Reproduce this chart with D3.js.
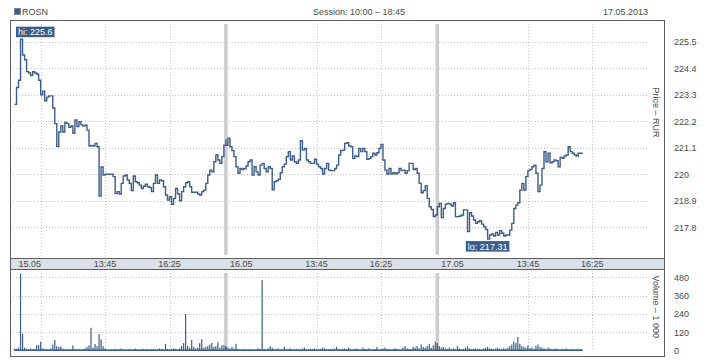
<!DOCTYPE html>
<html>
<head>
<meta charset="utf-8">
<script src="https://cdn.jsdelivr.net/npm/d3@7"></script>
<style>
  body { margin: 0; background: #fff; }
  svg { display: block; }
  text { font-family: "Liberation Sans", Arial, sans-serif; font-size: 9px; fill: #4a4a4a; }
</style>
</head>
<body>
<svg id="chart" width="718" height="360"></svg>
<script>
// trading days and session
const days = ["15.05", "16.05", "17.05"]
const sessionStart = "10:00"
const sessionEnd = "18:45"
const stepMinutes = 5
const gridTimes = [["11:05", "13:45", "16:25"], ["13:45", "16:25"], ["13:45", "16:25"]]
const labelTimes = ["13:45", "16:25"]
const priceTicks = [217.8, 218.9, 220, 221.1, 222.2, 223.3, 224.4, 225.5]
const volumeTicks = [0, 120, 240, 360, 480]

// ROSN price, 5-minute steps from 10:00
const prices15 = [222.9, 223.6, 223.9, 225.6, 224.95, 224.75, 224.26, 224.2, 224.1, 224.25,
  224.2, 224.15, 223.9, 223.3, 223.45, 223.05, 223.2, 223.25, 223.25, 222.75,
  222.1, 221.15, 221.75, 222.0, 221.75, 222.15, 222.1, 221.95, 222.0, 221.7,
  222.25, 221.98, 222.18, 222.05, 222.0, 222.03, 221.83, 221.17, 221.2, 221.17,
  221.28, 221.14, 219.1, 220.3, 219.97, 220.0, 220.0, 220.0, 220.0, 219.9,
  219.2, 219.28, 219.18, 219.62, 219.93, 219.97, 219.76, 219.62, 219.32, 219.93,
  219.69, 219.65, 219.55, 219.41, 219.5, 219.59, 219.48, 219.45, 219.28, 219.62,
  219.97, 219.62, 219.76, 219.73, 219.48, 219.14, 218.93, 219.07, 218.75, 219.0,
  219.41, 219.18, 218.9, 219.28, 219.48, 219.65, 219.69, 219.48, 219.25, 219.25,
  219.25, 219.18, 219.14, 219.28, 219.34, 219.62, 219.97, 220.17, 220.1, 220.52,
  220.8, 220.59, 220.45, 220.73, 221.21, 221.45]
const prices16 = [221.2, 221.5, 221.14, 220.98, 220.73, 220.31, 220.04, 220.24, 220.2, 220.24,
  220.34, 220.52, 220.59, 219.97, 220.31, 220.1, 219.97, 220.38, 220.45, 220.24,
  220.1, 220.31, 220.24, 219.35, 219.69, 219.73, 219.79, 220.06, 220.31, 220.42,
  220.73, 220.94, 220.59, 220.76, 220.52, 220.45, 220.59, 221.39, 221.0, 221.07,
  220.59, 220.52, 220.45, 220.45, 220.62, 220.42, 220.31, 220.24, 220.01, 220.24,
  220.45, 220.17, 220.15, 220.15, 220.24, 220.38, 220.8, 220.98, 221.0, 221.28,
  221.31, 221.17, 221.14, 220.66, 220.76, 220.73, 221.07, 220.94, 221.07, 220.94,
  220.62, 220.66, 220.73, 220.87, 220.8, 220.89, 221.07, 221.24, 220.59, 220.17,
  220.01, 220.24, 220.01, 220.06, 220.01, 220.06, 220.24, 220.15, 220.17, 220.04,
  220.15, 220.45, 220.45, 220.2, 220.24, 220.04, 219.62, 219.23, 219.32, 219.51,
  219.0, 218.65, 218.54, 218.24, 218.31, 218.45]
const prices17 = [218.65, 218.79, 218.2, 218.58, 218.76, 218.79, 218.76, 218.68, 218.82, 218.24,
  218.24, 218.27, 218.31, 218.52, 218.52, 217.62, 218.4, 218.27, 218.1, 217.96,
  218.03, 218.07, 217.93, 217.82, 217.71, 217.31, 217.48, 217.52, 217.44, 217.59,
  217.48, 217.66, 217.55, 217.44, 217.48, 217.48, 217.68, 217.96, 218.58, 218.72,
  218.82, 219.34, 219.62, 219.34, 219.9, 220.15, 220.2, 220.31, 220.38, 220.04,
  219.28, 219.55, 220.24, 220.94, 220.52, 220.87, 220.48, 220.52, 220.59, 220.56,
  220.31, 220.7, 220.66, 220.76, 220.8, 221.14, 220.94, 220.87, 220.8, 220.76,
  220.87, 220.87, 220.89]

// volume, thousands, same steps
const volumes15 = [15, 12, 20, 505, 109, 20, 12, 8, 15, 10,
  12, 37, 35, 59, 15, 10, 12, 8, 15, 40,
  70, 30, 25, 28, 15, 10, 12, 8, 10, 35,
  10, 8, 12, 8, 10, 15, 25, 35, 150, 20,
  44, 30, 109, 75, 30, 15, 8, 6, 10, 8,
  12, 8, 10, 15, 8, 10, 6, 12, 8, 10,
  14, 8, 6, 10, 12, 8, 10, 8, 10, 12,
  8, 10, 15, 10, 8, 45, 12, 8, 10, 15,
  12, 10, 15, 30, 50, 240, 30, 20, 70, 25,
  15, 20, 50, 75, 20, 25, 30, 40, 50, 25,
  30, 55, 20, 35, 35, 25]
const volumes16 = [30, 20, 15, 25, 15, 45, 12, 10, 8, 12,
  10, 8, 12, 10, 8, 10, 15, 10, 462, 12,
  10, 15, 30, 20, 12, 10, 15, 8, 10, 25,
  12, 10, 15, 8, 10, 12, 8, 10, 15, 20,
  10, 8, 12, 10, 15, 8, 10, 12, 20, 15,
  10, 8, 12, 10, 15, 25, 10, 8, 12, 15,
  10, 20, 8, 10, 12, 15, 10, 8, 20, 12,
  10, 15, 8, 10, 12, 25, 10, 8, 15, 20,
  12, 10, 8, 10, 15, 12, 10, 8, 20, 30,
  15, 12, 10, 25, 20, 30, 15, 40, 25, 20,
  30, 45, 20, 35, 60, 30]
const volumes17 = [50, 30, 20, 25, 15, 12, 20, 10, 15, 12,
  30, 15, 10, 12, 20, 30, 15, 10, 12, 15,
  10, 12, 8, 15, 20, 25, 15, 12, 10, 15,
  20, 12, 10, 15, 12, 20, 30, 40, 60, 50,
  90, 45, 30, 25, 20, 35, 15, 20, 12, 30,
  40, 25, 20, 15, 12, 20, 15, 10, 12, 15,
  10, 8, 12, 10, 15, 10, 8, 12, 10, 8,
  10, 12, 8]

const priceByDay = [prices15, prices16, prices17]
const volumeByDay = [volumes15, volumes16, volumes17]

const lineColor = "#3b5d89"
const frameColor = "#5f5f5f"
const gridColor = "#c4c4c4"

const minutes = s => { const [h, m] = s.split(":").map(Number); return h * 60 + m }
const sessionLength = minutes(sessionEnd) - minutes(sessionStart)
const sessionTime = (day, hhmm) => day * sessionLength + minutes(hhmm) - minutes(sessionStart)

const points = []
priceByDay.forEach((arr, d) => arr.forEach((p, i) => {
  points.push({t: d * sessionLength + i * stepMinutes, price: p, volume: volumeByDay[d][i]})
}))

const plotLeft = 10, plotRight = 664
const priceTop = 20, priceBottom = 258
const volTop = 269, volBottom = 357

const x = d3.scaleLinear().domain([-11.2, 3 * sessionLength + 38]).range([plotLeft, plotRight])
const y = d3.scaleLinear().domain([216.525, 226.4]).range([priceBottom, priceTop])
const yv = d3.scaleLinear().domain([0, 480]).range([350.7, 277.3])

const svg = d3.select("#chart")

// header
svg.append("rect").attr("x", 14.5).attr("y", 8.5).attr("width", 6).attr("height", 6)
  .attr("fill", lineColor).attr("stroke", "#7a8aa0").attr("stroke-width", 1)
svg.append("text").attr("x", 22).attr("y", 15).text("ROSN")
svg.append("text").attr("x", 359).attr("y", 15).attr("text-anchor", "middle")
  .text(`Session: ${sessionStart} \u2013 ${sessionEnd}`)
svg.append("text").attr("x", 648).attr("y", 15).attr("text-anchor", "end").text("17.05.2013")

// grids
const gridX = gridTimes.flatMap((times, d) => times.map(t => sessionTime(d, t)))
const grid = svg.append("g").attr("stroke", gridColor).attr("stroke-dasharray", "1,2")
grid.selectAll(".hp").data(priceTicks).join("line")
  .attr("x1", 13).attr("x2", 648)
  .attr("y1", d => Math.round(y(d)) + 0.5).attr("y2", d => Math.round(y(d)) + 0.5)
grid.selectAll(".hv").data(volumeTicks.slice(1)).join("line")
  .attr("x1", 13).attr("x2", 648)
  .attr("y1", d => Math.round(yv(d)) + 0.5).attr("y2", d => Math.round(yv(d)) + 0.5)
grid.selectAll(".vp").data(gridX).join("line")
  .attr("x1", d => Math.round(x(d)) + 0.5).attr("x2", d => Math.round(x(d)) + 0.5)
  .attr("y1", 24).attr("y2", 255)
grid.selectAll(".vv").data(gridX).join("line")
  .attr("x1", d => Math.round(x(d)) + 0.5).attr("x2", d => Math.round(x(d)) + 0.5)
  .attr("y1", 273).attr("y2", 351)

// day separators
const seps = [1, 2].map(d => d * sessionLength)
svg.selectAll(".sep1").data(seps).join("rect")
  .attr("x", d => x(d) - 1.75).attr("width", 3.5).attr("y", 24).attr("height", 231).attr("fill", "#cccccc")
svg.selectAll(".sep2").data(seps).join("rect")
  .attr("x", d => x(d) - 1.75).attr("width", 3.5).attr("y", 273).attr("height", 78).attr("fill", "#cccccc")

// price line
const line = d3.line().x(d => x(d.t)).y(d => y(d.price)).curve(d3.curveStepAfter)
svg.append("path").datum(points).attr("d", line)
  .attr("fill", "none").attr("stroke", lineColor).attr("stroke-width", 1.4)

// volume bars
svg.append("line").attr("x1", x(0)).attr("x2", x(points[points.length - 1].t))
  .attr("y1", yv(0) - 0.5).attr("y2", yv(0) - 0.5).attr("stroke", lineColor).attr("stroke-width", 1.5)
svg.selectAll(".vol").data(points).join("rect")
  .attr("x", d => x(d.t) - 0.6).attr("width", 1.2)
  .attr("y", d => yv(d.volume)).attr("height", d => yv(0) - yv(d.volume))
  .attr("fill", lineColor)

// frames and axis band
svg.append("rect").attr("x", plotLeft + 0.5).attr("y", priceTop + 0.5)
  .attr("width", plotRight - plotLeft).attr("height", priceBottom - priceTop)
  .attr("fill", "none").attr("stroke", frameColor)
svg.append("rect").attr("x", plotLeft + 0.5).attr("y", priceBottom + 0.5)
  .attr("width", plotRight - plotLeft).attr("height", volTop - priceBottom)
  .attr("fill", "#d9e0e7").attr("stroke", frameColor)
svg.append("rect").attr("x", plotLeft + 0.5).attr("y", volTop + 0.5)
  .attr("width", plotRight - plotLeft).attr("height", volBottom - volTop - 1)
  .attr("fill", "none").attr("stroke", frameColor)

// time axis labels
svg.selectAll(".day").data(days).join("text")
  .attr("x", (d, i) => x(i * sessionLength) + 4).attr("y", 267).text(d => d)
const timeLabels = days.flatMap((d, i) => labelTimes.map(t => ({t: sessionTime(i, t), label: t})))
svg.selectAll(".tl").data(timeLabels).join("text")
  .attr("x", d => x(d.t)).attr("y", 267).attr("text-anchor", "middle").text(d => d.label)

// right axes
const priceAxis = svg.append("g").attr("transform", `translate(${plotRight},0)`)
  .call(d3.axisRight(y).tickValues(priceTicks).tickSize(0).tickPadding(10).tickFormat(d => String(d)))
const volAxis = svg.append("g").attr("transform", `translate(${plotRight},0)`)
  .call(d3.axisRight(yv).tickValues(volumeTicks).tickSize(0).tickPadding(10).tickFormat(d => String(d)))
svg.selectAll(".domain").remove()
svg.selectAll(".tick text").attr("font-family", null).attr("font-size", null).style("fill", "#4a4a4a")

svg.append("text").attr("transform", "translate(656,112.5) rotate(90)")
  .attr("text-anchor", "middle").attr("dominant-baseline", "central").text("Price \u2013 RUR")
svg.append("text").attr("transform", "translate(656,306.7) rotate(90)")
  .attr("text-anchor", "middle").attr("dominant-baseline", "central").text("Volume \u2013 1 000")

// hi / lo markers
const hi = d3.greatest(points, d => d.price)
const lo = d3.least(points, d => d.price)
function marker(p, label, below) {
  const g = svg.append("g")
  const t = g.append("text").style("fill", "#fff").text(label)
  const w = t.node().getComputedTextLength() + 4
  const bx = Math.max(16, x(p.t) - w / 2)
  const by = below ? y(p.price) + 2 : y(p.price) - 12.6
  g.insert("rect", "text").attr("x", bx).attr("y", by).attr("width", w).attr("height", 10.5).attr("fill", lineColor)
  t.attr("x", bx + 2).attr("y", by + 8.5)
}
marker(hi, `hi: ${hi.price}`, false)
marker(lo, `lo: ${lo.price}`, true)
</script>
</body>
</html>
